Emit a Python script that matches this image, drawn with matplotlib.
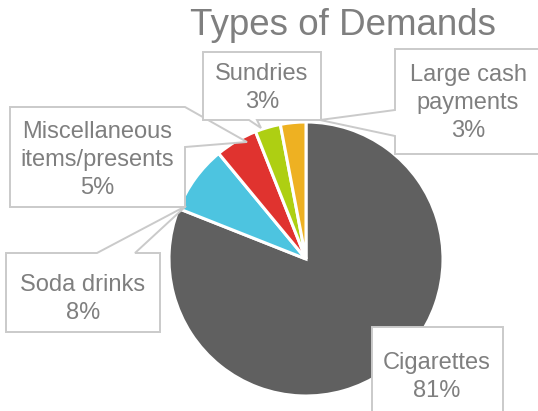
import matplotlib.pyplot as plt
from matplotlib.patches import Polygon

# chart data
categories = ['Cigarettes', 'Soda drinks', 'Miscellaneous\nitems/presents', 'Sundries', 'Large cash\npayments']
shares = [81, 8, 5, 3, 3]
colors = ['#606060', '#4DC4E0', '#E0332F', '#AECF12', '#EEB122']

W, H = 538, 411
TXT = '#7F7F7F'
EDGE = '#CACACA'
plt.rcParams['font.family'] = ['Liberation Sans', 'DejaVu Sans']

fig = plt.figure(figsize=(W / 100, H / 100), dpi=100)
ax = fig.add_axes([0, 0, 1, 1])

def Y(y):
    # picture rows -> data y
    return H - y

ax.pie(shares, colors=colors, startangle=90, counterclock=False,
       center=(306, Y(259)), radius=137,
       wedgeprops=dict(edgecolor='white', linewidth=2.2))
ax.set_xlim(0, W)
ax.set_ylim(0, H)
ax.set_aspect('equal')
ax.axis('off')

# callout boxes (pixel positions of the picture)
boxes = {
    'Cigarettes': [(372, 327), (503, 327), (503, 420), (372, 420)],
    'Soda drinks': [(6, 253), (97, 253), (186, 206), (135, 253), (160, 253), (160, 332), (6, 332)],
    'Miscellaneous\nitems/presents': [(10, 107), (185, 107), (247, 142), (185, 147), (185, 207), (10, 207)],
    'Large cash\npayments': [(395, 49), (545, 49), (545, 154), (395, 154), (395, 136), (320, 120), (395, 110)],
    'Sundries': [(203, 52), (321, 52), (321, 120), (257, 120), (261, 128), (249, 120), (203, 120)],
}
label_pos = {
    'Cigarettes': (437, 377),
    'Soda drinks': (83, 299),
    'Miscellaneous\nitems/presents': (97, 160),
    'Large cash\npayments': (468, 103),
    'Sundries': (262, 88),
}

for cat, val in zip(categories, shares):
    pts = [(x, Y(y)) for x, y in boxes[cat]]
    ax.add_patch(Polygon(pts, closed=True, facecolor='white', edgecolor=EDGE,
                         linewidth=1.4, zorder=5, clip_on=False))
    x, y = label_pos[cat]
    ax.text(x, Y(y), '%s\n%d%%' % (cat, val), ha='center', va='center',
            fontsize=17, color=TXT, linespacing=1.38, zorder=6)

ax.text(343, Y(26), 'Types of Demands', ha='center', va='center',
        fontsize=26.5, color=TXT)

fig.savefig('out.png', dpi=100)
